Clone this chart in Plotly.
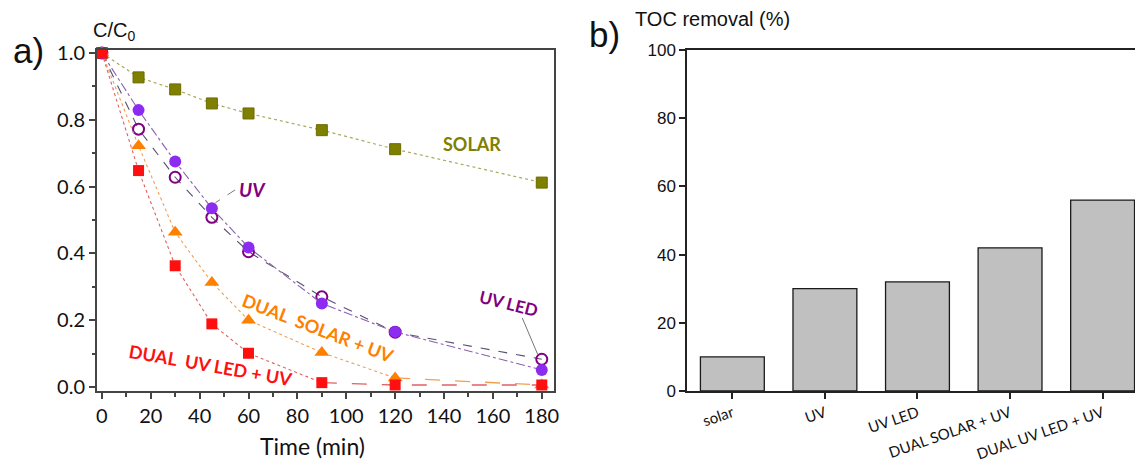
import plotly.graph_objects as go

# ---------------- data ----------------
time_min = [0, 15, 30, 45, 60, 90, 120, 180]
solar = [1.0, 0.927, 0.891, 0.849, 0.819, 0.769, 0.712, 0.612]
uv = [1.0, 0.829, 0.675, 0.535, 0.418, 0.250, 0.165, 0.051]
uv_led = [1.0, 0.772, 0.628, 0.508, 0.405, 0.270, 0.164, 0.083]
dual_solar_uv = [1.0, 0.722, 0.463, 0.313, 0.200, 0.103, 0.027, 0.006]
dual_uvled_uv = [1.0, 0.648, 0.363, 0.189, 0.101, 0.013, 0.006, 0.006]

toc_categories = ["solar", "UV", "UV LED", "DUAL SOLAR + UV", "DUAL UV LED + UV"]
toc_removal = [10, 30, 32, 42, 56]

x_ticks = [0, 20, 40, 60, 80, 100, 120, 140, 160, 180]
y_ticks = [0.0, 0.2, 0.4, 0.6, 0.8, 1.0]
toc_ticks = [0, 20, 40, 60, 80, 100]

# ---------------- layout geometry ----------------
W, H = 1135, 465
ML, MR, MT, MB = 97, 0, 50, 74
PW, PH = W - ML - MR, H - MT - MB


def px(x):
    return (x - ML) / PW


def py(y):
    return (H - MB - y) / PH


fig = go.Figure()

OLIVE = "#7f7f00"
VIOLET = "#8b2cf0"
PURPLE = "#800080"
ORANGE = "#ff8000"
RED = "#ff1010"

# SOLAR
fig.add_trace(go.Scatter(x=time_min, y=solar, mode="lines+markers", xaxis="x", yaxis="y",
                         line=dict(color="#a8a860", width=1.2, dash="dot"),
                         marker=dict(symbol="square", size=11, color=OLIVE,
                                     line=dict(color="#6b6b00", width=1)),
                         cliponaxis=False, showlegend=False))
# UV LED (open circles)
fig.add_trace(go.Scatter(x=time_min, y=uv_led, mode="lines+markers", xaxis="x", yaxis="y",
                         line=dict(color="#5a5070", width=1.1, dash="dash"),
                         marker=dict(symbol="circle-open", size=11, color=PURPLE,
                                     line=dict(color=PURPLE, width=2)),
                         cliponaxis=False, showlegend=False))
# UV (filled circles)
fig.add_trace(go.Scatter(x=time_min, y=uv, mode="lines+markers", xaxis="x", yaxis="y",
                         line=dict(color="#8a60b0", width=1.1, dash="dashdot"),
                         marker=dict(symbol="circle", size=12, color=VIOLET),
                         cliponaxis=False, showlegend=False))
# DUAL SOLAR + UV: dotted part then long-dash tail
fig.add_trace(go.Scatter(x=time_min[:7], y=dual_solar_uv[:7], mode="lines", xaxis="x", yaxis="y",
                         line=dict(color="#f0a050", width=1.1, dash="dot"),
                         showlegend=False, hoverinfo="skip"))
fig.add_trace(go.Scatter(x=time_min[6:], y=dual_solar_uv[6:], mode="lines", xaxis="x", yaxis="y",
                         line=dict(color="#f0a050", width=1.3, dash="longdash"),
                         showlegend=False, hoverinfo="skip"))
fig.add_trace(go.Scatter(x=time_min, y=dual_solar_uv, mode="markers", xaxis="x", yaxis="y",
                         marker=dict(symbol="triangle-up", size=13, color=ORANGE),
                         cliponaxis=False, showlegend=False))
# DUAL UV LED + UV
fig.add_trace(go.Scatter(x=time_min[:6], y=dual_uvled_uv[:6], mode="lines", xaxis="x", yaxis="y",
                         line=dict(color="#e06060", width=1.1, dash="dot"),
                         showlegend=False, hoverinfo="skip"))
fig.add_trace(go.Scatter(x=time_min[5:], y=dual_uvled_uv[5:], mode="lines", xaxis="x", yaxis="y",
                         line=dict(color="#e06060", width=1.3, dash="longdash"),
                         showlegend=False, hoverinfo="skip"))
fig.add_trace(go.Scatter(x=time_min, y=dual_uvled_uv, mode="markers", xaxis="x", yaxis="y",
                         marker=dict(symbol="square", size=11, color=RED),
                         cliponaxis=False, showlegend=False))

# Right: TOC bars
fig.add_trace(go.Bar(x=toc_categories, y=toc_removal, xaxis="x2", yaxis="y2",
                     marker=dict(color="#c0c0c0", line=dict(color="#1a1a1a", width=1.3)),
                     width=0.69, showlegend=False))

left_dom = [0, px(554)]
right_dom = [px(687), 1]

fig.update_layout(
    width=W, height=H,
    margin=dict(l=ML, r=MR, t=MT, b=MB),
    paper_bgcolor="white", plot_bgcolor="white",
    font=dict(family="Lato", color="#111"),
    xaxis=dict(domain=left_dom, range=[-2, 185], tickvals=x_ticks, automargin=False,
               showline=True, mirror=True, linecolor="#444", linewidth=2,
               ticks="outside", ticklen=6, tickwidth=1.5, tickcolor="#444",
               minor=dict(dtick=10, tick0=0, ticks="outside", ticklen=3.5, tickcolor="#444", tickwidth=1.5),
               showgrid=False, zeroline=False,
               tickfont=dict(family="Lato", size=20, color="#111"),
               anchor="y"),
    yaxis=dict(domain=[0, 1], range=[-0.012, 1.009], tickvals=y_ticks, tickformat=".1f",
               automargin=False,
               showline=True, mirror=True, linecolor="#444", linewidth=2,
               ticks="outside", ticklen=6, tickwidth=1.5, tickcolor="#444",
               minor=dict(dtick=0.1, tick0=0, ticks="outside", ticklen=3.5, tickcolor="#444", tickwidth=1.5),
               showgrid=False, zeroline=False,
               tickfont=dict(family="Lato", size=20, color="#111"),
               anchor="x"),
    xaxis2=dict(domain=right_dom, range=[-0.49, 4.35], automargin=False,
                showline=True, mirror=True, linecolor="#222", linewidth=1.5,
                ticks="outside", ticklen=6, tickcolor="#222", tickwidth=1.5,
                showgrid=False, zeroline=False, tickangle=-19,
                tickfont=dict(family="Lato", size=15, color="#111"),
                anchor="y2"),
    yaxis2=dict(domain=[0, 1], range=[0, 100], tickvals=toc_ticks, automargin=False,
                showline=True, linecolor="#222", linewidth=1.5,
                ticks="outside", ticklen=6, tickcolor="#222", tickwidth=1.5,
                showgrid=False, zeroline=False,
                tickfont=dict(family="Liberation Sans", size=17, color="#111"),
                anchor="x2"),
)

annots = [
    dict(text="<b>SOLAR</b>", x=151.3, y=0.728, xref="x", yref="y", showarrow=False,
         font=dict(family="Lato", size=18, color=OLIVE)),
    dict(text="<b><i>UV</i></b>", x=61.5, y=0.59, xref="x", yref="y", showarrow=False,
         font=dict(family="Lato", size=19, color=PURPLE)),
    dict(text="<b>UV LED</b>", x=166.6, y=0.251, xref="x", yref="y", showarrow=False, textangle=14,
         font=dict(family="Lato", size=17, color=PURPLE)),
    dict(text="<b>DUAL\u00a0 SOLAR + UV</b>", x=88.5, y=0.177, xref="x", yref="y", showarrow=False,
         textangle=21, font=dict(family="Lato", size=18, color=ORANGE)),
    dict(text="<b>DUAL\u00a0 UV LED + UV</b>", x=44.3, y=0.066, xref="x", yref="y", showarrow=False,
         textangle=10, font=dict(family="Lato", size=18, color=RED)),
    dict(text="Time (min)", x=px(312), y=py(446), xref="paper", yref="paper", showarrow=False,
         xanchor="center", yanchor="middle", font=dict(family="Lato", size=23, color="#111")),
    dict(text="C/C<sub>0</sub>", x=px(91), y=py(31), xref="paper", yref="paper", showarrow=False,
         xanchor="left", yanchor="middle", font=dict(family="Liberation Sans", size=20, color="#111")),
    dict(text="a)", x=px(28), y=py(50), xref="paper", yref="paper", showarrow=False,
         xanchor="center", yanchor="middle", font=dict(family="Liberation Sans", size=35, color="#111")),
    dict(text="b)", x=px(604), y=py(34), xref="paper", yref="paper", showarrow=False,
         xanchor="center", yanchor="middle", font=dict(family="Liberation Sans", size=35, color="#111")),
    dict(text="TOC removal (%)", x=px(633), y=py(19), xref="paper", yref="paper", showarrow=False,
         xanchor="left", yanchor="middle", font=dict(family="Liberation Sans", size=20, color="#111")),
]
fig.update_layout(annotations=annots)

fig.update_layout(shapes=[
    dict(type="line", xref="x", yref="y", x0=54.5, y0=0.59, x1=46.5, y1=0.552,
         line=dict(color="#777", width=1, dash="dash")),
    dict(type="line", xref="x", yref="y", x0=172.0, y0=0.207, x1=178.3, y1=0.098,
         line=dict(color="#777", width=1)),
])

fig.write_html("out.html")
